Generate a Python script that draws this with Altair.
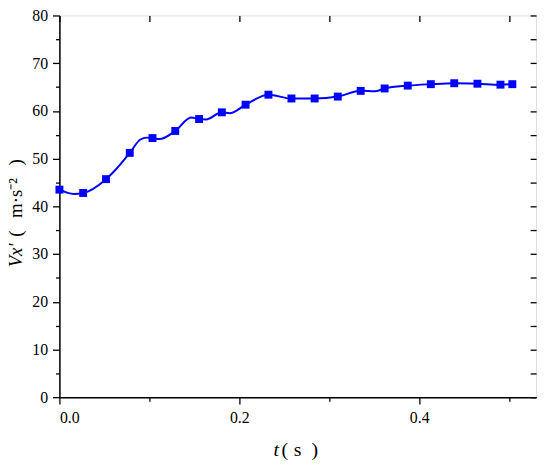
import altair as alt
import pandas as pd

# marker positions (s) and values
t_marker = [0.000, 0.0264, 0.0518, 0.0782, 0.1035, 0.1288, 0.1553, 0.1806, 0.2070, 0.2324,
            0.2580, 0.2838, 0.3095, 0.3350, 0.3616, 0.3873, 0.4130, 0.4390, 0.4648, 0.4904, 0.5036]
v_marker = [43.5, 42.8, 45.7, 51.2, 54.3, 55.8, 58.3, 59.7, 61.3, 63.4,
            62.6, 62.6, 63.0, 64.2, 64.7, 65.3, 65.6, 65.8, 65.7, 65.5, 65.6]

# extra points of the drawn curve between markers
t_extra = [0.016, 0.0606, 0.090, 0.097, 0.111, 0.1465, 0.163, 0.1894, 0.3506]
v_extra = [42.6, 47.3, 54.0, 54.4, 54.1, 58.6, 58.2, 59.5, 64.1]

x_ticks = [0.0, 0.1, 0.2, 0.3, 0.4, 0.5]
y_ticks = list(range(0, 81, 5))

markers = pd.DataFrame({"t": t_marker, "v": v_marker})
curve = pd.concat([markers, pd.DataFrame({"t": t_extra, "v": v_extra})]).sort_values("t")

FONT = "Liberation Serif"
BLUE = "#0000FF"

xscale = alt.Scale(domain=[0, 0.53], nice=False, zero=False)
yscale = alt.Scale(domain=[0, 80], nice=False)

major_x = "abs(datum.value*5 - round(datum.value*5)) < 0.001"
major_y = "datum.value % 10 == 0"

line = alt.Chart(curve).mark_line(color=BLUE, strokeWidth=2, interpolate="monotone").encode(
    x=alt.X("t:Q", scale=xscale, axis=alt.Axis(
        orient="bottom", values=x_ticks, grid=False, title=None,
        labelExpr=f"{major_x} ? format(datum.value, '.1f') : ''",
        tickSize={"condition": {"test": major_x, "value": 7}, "value": 4},
        labelFont=FONT, labelFontSize=16, labelPadding=6, labelColor="black",
        domainColor="black", domainWidth=1.5, tickColor="black", tickWidth=1.3,
    )),
    y=alt.Y("v:Q", scale=yscale, axis=alt.Axis(
        orient="left", values=y_ticks, grid=False, title=None,
        labelExpr=f"{major_y} ? datum.label : ''",
        tickSize={"condition": {"test": major_y, "value": 7}, "value": 4},
        labelFont=FONT, labelFontSize=16, labelPadding=5, labelColor="black",
        domainColor="black", domainWidth=1.5, tickColor="black", tickWidth=1.3,
    )),
)

points = alt.Chart(markers).mark_square(color=BLUE, size=64, opacity=1).encode(
    x=alt.X("t:Q", scale=xscale, axis=alt.Axis(
        orient="top", values=x_ticks, grid=False, labels=False, title=None,
        domain=False, offset=-6, tickSize=6, tickColor="black", tickWidth=1.3,
    )),
    y=alt.Y("v:Q", scale=yscale, axis=alt.Axis(
        orient="right", values=y_ticks, grid=False, labels=False, title=None,
        domain=False, offset=-6, tickSize=6, tickColor="black", tickWidth=1.3,
    )),
)

# axis titles with mixed italic / upright pieces
one = pd.DataFrame({"k": [0]})


def piece(text, x, y, italic=False, angle=0, size=20):
    return alt.Chart(one).mark_text(
        text=text, font=FONT, fontSize=size, color="black",
        fontStyle="italic" if italic else "normal",
        align="left", baseline="alphabetic", angle=angle,
    ).encode(x=alt.value(x), y=alt.value(y))


titles = [
    piece("t", 216.5, 445.7, italic=True),
    piece("(", 224.5, 445.7),
    piece("s", 237, 445.7),
    piece(")", 255, 445.7),
    piece("Vx′", -37.5, 254.7, italic=True, angle=270, size=19),
    piece("(", -37.5, 223.7, angle=270, size=19),
    piece("m·s⁻²", -37.5, 204.7, angle=270, size=19),
    piece(")", -37.5, 151.7, angle=270, size=19),
]

chart = alt.layer(line, points, *titles).resolve_axis(x="independent", y="independent").properties(
    width=482, height=386,
    autosize=alt.AutoSizeParams(type="none"),
    padding={"left": 52, "top": 5, "right": 6, "bottom": 64},
).configure_view(stroke="black", strokeWidth=1.5).configure(background="white", font=FONT)

chart.save("out.html", embed_options={"renderer": "svg", "actions": False})
